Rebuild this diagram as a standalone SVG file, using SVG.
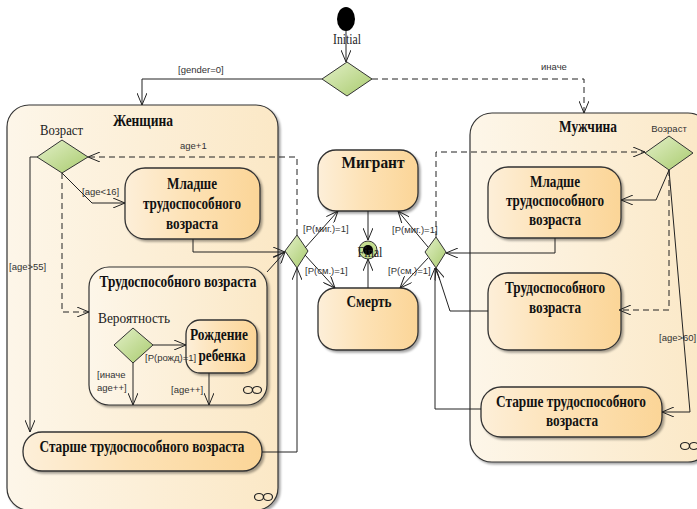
<svg xmlns="http://www.w3.org/2000/svg" width="697" height="509" viewBox="0 0 697 509">
<defs>
<linearGradient id="gBox" x1="0" y1="0" x2="1" y2="0">
<stop offset="0" stop-color="#fdefd9"/><stop offset="0.45" stop-color="#fde2b6"/><stop offset="1" stop-color="#fbd597"/>
</linearGradient>
<linearGradient id="gCont" x1="0" y1="0" x2="1" y2="0">
<stop offset="0" stop-color="#fdf6e9"/><stop offset="1" stop-color="#fbe8c6"/>
</linearGradient>
<linearGradient id="gDia" x1="0" y1="0" x2="1" y2="1">
<stop offset="0" stop-color="#e3f0c8"/><stop offset="1" stop-color="#a9cb6e"/>
</linearGradient>
<filter id="sh" x="-10%" y="-10%" width="125%" height="130%">
<feDropShadow dx="2" dy="2" stdDeviation="1.2" flood-color="#000" flood-opacity="0.35"/>
</filter>
<marker id="arr" viewBox="0 0 12 10" refX="12" refY="5" markerWidth="12" markerHeight="10" orient="auto" markerUnits="userSpaceOnUse">
<path d="M0,0 L12,5 L0,10" fill="none" stroke="#222" stroke-width="1"/>
</marker>
<style>
.cont{fill:url(#gCont);stroke:#333;stroke-width:1.2;filter:url(#sh)}
.box{fill:url(#gBox);stroke:#333;stroke-width:1.3;filter:url(#sh)}
.dia{fill:url(#gDia);stroke:#333;stroke-width:1}
.t{font-family:"Liberation Serif",serif;font-weight:bold;font-size:16px;fill:#111;text-anchor:middle}
.s{font-family:"Liberation Serif",serif;font-size:15px;fill:#222}
.l{font-family:"Liberation Sans",sans-serif;font-size:9.5px;fill:#333}
.c{fill:none;stroke:#222;stroke-width:1;marker-end:url(#arr)}
.d{stroke-dasharray:6,4}
.inf{fill:none;stroke:#222;stroke-width:1.2}
</style>
</defs>
<rect width="697" height="509" fill="#fff"/>

<g id="women">
<rect class="cont" x="7" y="105" width="271" height="405" rx="22"/>
<text class="t" x="143" y="126" textLength="60" lengthAdjust="spacingAndGlyphs">Женщина</text>
<ellipse class="inf" cx="259" cy="497" rx="4.5" ry="3.5"/><ellipse class="inf" cx="268" cy="497" rx="4.5" ry="3.5"/>
</g>
<g id="men">
<rect class="cont" x="470" y="113" width="240" height="349" rx="22"/>
<text class="t" x="588" y="132" textLength="58" lengthAdjust="spacingAndGlyphs">Мужчина</text>
<ellipse class="inf" cx="685" cy="446" rx="4.5" ry="3.5"/><ellipse class="inf" cx="694" cy="446" rx="4.5" ry="3.5"/>
</g>

<g id="initial">
<ellipse cx="346" cy="19" rx="9" ry="12" fill="#000"/>
<text class="s" x="347" y="44" text-anchor="middle" textLength="28" lengthAdjust="spacingAndGlyphs">Initial</text>
</g>
<g id="gender">
<polygon class="dia" points="347,62 372,79 347,96 322,79"/>
</g>

<g id="w_age">
<text class="s" x="40" y="135" textLength="43" lengthAdjust="spacingAndGlyphs">Возраст</text>
<polygon class="dia" points="62,140 88,157 62,173 37,157"/>
</g>
<g id="w_young">
<rect class="box" x="125" y="168" width="135" height="71" rx="20"/>
<text class="t" x="192" y="189" textLength="50" lengthAdjust="spacingAndGlyphs">Младше</text>
<text class="t" x="192" y="209" textLength="98" lengthAdjust="spacingAndGlyphs">трудоспособного</text>
<text class="t" x="192" y="229" textLength="52" lengthAdjust="spacingAndGlyphs">возраста</text>
</g>
<g id="w_work">
<rect class="cont" x="89" y="267" width="178" height="138" rx="20"/>
<text class="t" x="178" y="287" textLength="157" lengthAdjust="spacingAndGlyphs">Трудоспособного возраста</text>
<text class="s" x="98" y="323" textLength="72" lengthAdjust="spacingAndGlyphs">Вероятность</text>
<ellipse class="inf" cx="248" cy="390" rx="4.5" ry="3.5"/><ellipse class="inf" cx="257" cy="390" rx="4.5" ry="3.5"/>
</g>
<g id="w_prob">
<polygon class="dia" points="133,328 153,345 133,363 114,345"/>
</g>
<g id="w_birth">
<rect class="box" x="186" y="320" width="71" height="53" rx="14"/>
<text class="t" x="219" y="340" textLength="58" lengthAdjust="spacingAndGlyphs">Рождение</text>
<text class="t" x="222" y="361" textLength="47" lengthAdjust="spacingAndGlyphs">ребенка</text>
</g>
<g id="w_old">
<rect class="box" x="23" y="432" width="239" height="39" rx="19"/>
<text class="t" x="142" y="452" textLength="205" lengthAdjust="spacingAndGlyphs">Старше трудоспособного возраста</text>
</g>
<g id="w_merge">
<polygon class="dia" points="297,235 308,251 297,268 285,251"/>
</g>

<g id="migrant">
<rect class="box" x="318" y="150" width="100" height="61" rx="18"/>
<text class="t" x="373" y="168" textLength="63" lengthAdjust="spacingAndGlyphs">Мигрант</text>
</g>
<g id="death">
<rect class="box" x="318" y="288" width="100" height="62" rx="18"/>
<text class="t" x="369" y="307" textLength="45" lengthAdjust="spacingAndGlyphs">Смерть</text>
</g>
<g id="final">
<circle cx="368" cy="250" r="9" fill="#c3dd8f" stroke="#333" stroke-width="1"/>
<circle cx="368" cy="250" r="5" fill="#000"/>
<text class="s" x="370" y="257" text-anchor="middle" textLength="25" lengthAdjust="spacingAndGlyphs">Final</text>
</g>

<g id="m_merge">
<polygon class="dia" points="436,237 446,252 436,268 425,252"/>
</g>
<g id="m_age">
<text class="l" x="669" y="132" text-anchor="middle">Возраст</text>
<polygon class="dia" points="669,136 693,153 669,170 645,153"/>
</g>
<g id="m_young">
<rect class="box" x="488" y="167" width="133" height="71" rx="20"/>
<text class="t" x="555" y="187" textLength="50" lengthAdjust="spacingAndGlyphs">Младше</text>
<text class="t" x="555" y="206" textLength="98" lengthAdjust="spacingAndGlyphs">трудоспособного</text>
<text class="t" x="555" y="225" textLength="52" lengthAdjust="spacingAndGlyphs">возраста</text>
</g>
<g id="m_work">
<rect class="box" x="488" y="273" width="133" height="77" rx="20"/>
<text class="t" x="555" y="293" textLength="100" lengthAdjust="spacingAndGlyphs">Трудоспособного</text>
<text class="t" x="555" y="313" textLength="52" lengthAdjust="spacingAndGlyphs">возраста</text>
</g>
<g id="m_old">
<rect class="box" x="481" y="387" width="181" height="50" rx="20"/>
<text class="t" x="571" y="407" textLength="150" lengthAdjust="spacingAndGlyphs">Старше трудоспособного</text>
<text class="t" x="572" y="426" textLength="52" lengthAdjust="spacingAndGlyphs">возраста</text>
</g>

<g id="connectors">
<path class="c" d="M346,31 L346,62"/>
<path class="c" d="M322,79 L142,79 L142,105"/>
<path class="c d" d="M372,79 L584,79 L584,113"/>
<path class="c" d="M62,173 L92,203 L125,203"/>
<path class="c d" d="M62,173 L62,312 L89,312"/>
<path class="c" d="M37,157 L30,157 L30,432"/>
<path class="c" d="M193,239 L193,252 L285,252"/>
<path class="c" d="M267,272 L285,252"/>
<path class="c" d="M262,452 L297,452 L297,268"/>
<path class="c d" d="M297,235 L297,157 L88,157"/>
<path class="c" d="M305,248 L338,211"/>
<path class="c" d="M305,255 L335,288"/>
<path class="c" d="M368,211 L368,240"/>
<path class="c" d="M368,288 L368,259"/>
<path class="c" d="M428,247 L398,211"/>
<path class="c" d="M428,258 L400,288"/>
<path class="c d" d="M436,237 L436,152 L645,152"/>
<path class="c" d="M669,170 L656,200 L621,200"/>
<path class="c d" d="M669,170 L669,310 L619,310"/>
<path class="c" d="M669,170 L690,412 L662,412"/>
<path class="c" d="M555,238 L555,253 L446,253"/>
<path class="c" d="M488,311 L450,311 L436,268"/>
<path class="c" d="M481,409 L435,409 L435,268"/>
<path class="c" d="M153,345 L186,345"/>
<path class="c" d="M133,363 L133,405"/>
<path class="c" d="M209,373 L209,405"/>
<text class="l" x="178" y="73">[gender=0]</text>
<text class="l" x="541" y="70">иначе</text>
<text class="l" x="180" y="149">age+1</text>
<text class="l" x="82" y="195">[age&lt;16]</text>
<text class="l" x="9" y="270">[age&gt;55]</text>
<text class="l" x="145" y="361">[P(рожд)=1]</text>
<text class="l" x="97" y="378">[иначе</text>
<text class="l" x="97" y="391">age++]</text>
<text class="l" x="171" y="393">[age++]</text>
<text class="l" x="303" y="232">[P(миг.)=1]</text>
<text class="l" x="305" y="274">[P(см.)=1]</text>
<text class="l" x="392" y="233">[P(миг.)=1]</text>
<text class="l" x="388" y="274">[P(см.)=1]</text>
<text class="l" x="659" y="341">[age&gt;60]</text>
</g>
</svg>
